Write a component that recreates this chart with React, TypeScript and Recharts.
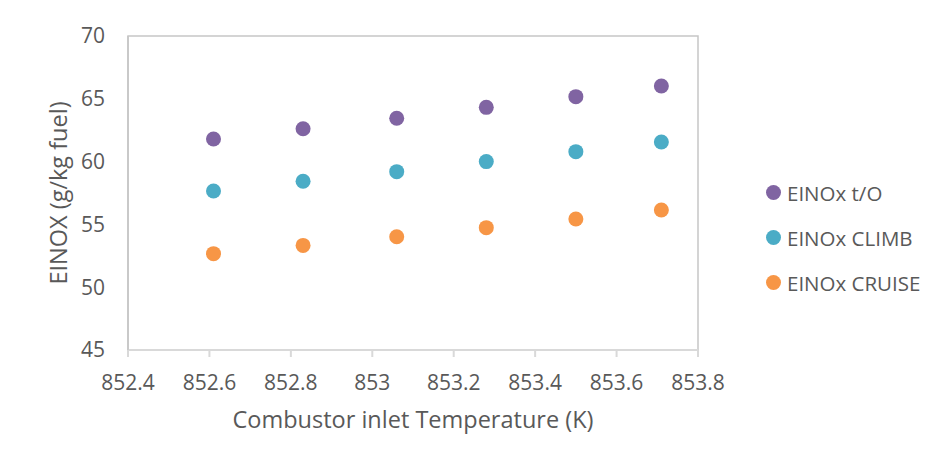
import {
  ScatterChart, Scatter, XAxis, YAxis, Legend, ReferenceArea, Label,
} from "recharts";

const temps = [852.61, 852.83, 853.06, 853.28, 853.5, 853.71];
const takeOff = [61.8, 62.62, 63.45, 64.32, 65.17, 66.02];
const climb = [57.66, 58.43, 59.2, 60.0, 60.79, 61.56];
const cruise = [52.67, 53.33, 54.02, 54.74, 55.43, 56.15];

const xTicks = [852.4, 852.6, 852.8, 853, 853.2, 853.4, 853.6, 853.8];
const yTicks = [45, 50, 55, 60, 65, 70];

const series = [
  { name: "EINOx t/O", values: takeOff, color: "#8064A2" },
  { name: "EINOx CLIMB", values: climb, color: "#4BACC6" },
  { name: "EINOx CRUISE", values: cruise, color: "#F79646" },
];

const font = "'Open Sans', sans-serif";
const textColor = "#595959";

function LegendBox() {
  return (
    <div style={{ width: 229, paddingLeft: 68, boxSizing: "border-box", fontFamily: font }}>
      {series.map((s) => (
        <div key={s.name} style={{ height: 45, display: "flex", alignItems: "center" }}>
          <span
            style={{
              width: 15, height: 15, borderRadius: "50%", background: s.color,
              display: "inline-block", marginRight: 6,
            }}
          />
          <span style={{ fontSize: 20.5, color: textColor }}>{s.name}</span>
        </div>
      ))}
    </div>
  );
}

const Dot = (props: any) => (
  <circle cx={props.cx} cy={props.cy} r={7.5} fill={props.fill} />
);

// rotated y title, centred on the plot height
const YTitle = (props: any) => {
  const vb = props.viewBox || {};
  const cx = vb.x + 50;
  const cy = vb.y + vb.height / 2;
  return (
    <text
      x={cx}
      y={cy}
      transform={`rotate(-90 ${cx} ${cy})`}
      textAnchor="middle"
      dominantBaseline="central"
      fill={textColor}
      fontSize={23.5}
      fontFamily={font}
    >
      EINOX (g/kg fuel)
    </text>
  );
};

export default function App() {
  return (
    <div
      style={{
        margin: -1, width: 929, height: 453, border: "1px solid #d9d9d9",
        background: "#fff", fontFamily: font,
      }}
    >
      <ScatterChart width={929} height={453} margin={{ top: 28, right: 10, left: 0, bottom: 0 }}>
        <ReferenceArea x1={852.4} x2={853.8} y1={45} y2={70} fill="none" stroke="#C6C6C6" strokeWidth={1.5} />
        <XAxis
          type="number"
          dataKey="x"
          domain={[852.4, 853.8]}
          ticks={xTicks}
          interval={0}
          height={111}
          tickSize={7}
          tickMargin={18}
          stroke="#D9D9D9"
          strokeWidth={2}
          tick={{ fill: textColor, fontSize: 21, fontFamily: font }}
          label={{
            value: "Combustor inlet Temperature (K)", position: "insideBottom", offset: 33,
            fill: textColor, fontSize: 23.5, fontFamily: font,
          }}
        />
        <YAxis
          type="number"
          dataKey="y"
          domain={[45, 70]}
          ticks={yTicks}
          interval={0}
          width={120}
          tickLine={false}
          tickMargin={17}
          stroke="#C6C6C6"
          strokeWidth={1.5}
          tick={{ fill: textColor, fontSize: 21, fontFamily: font }}
        >
          <Label content={<YTitle />} />
        </YAxis>
        <Legend
          layout="vertical"
          align="right"
          verticalAlign="middle"
          content={() => <LegendBox />}
          wrapperStyle={{ top: 162 }}
        />
        {series.map((s) => (
          <Scatter
            key={s.name}
            name={s.name}
            data={temps.map((t, i) => ({ x: t, y: s.values[i] }))}
            fill={s.color}
            shape={Dot}
            isAnimationActive={false}
          />
        ))}
      </ScatterChart>
    </div>
  );
}
